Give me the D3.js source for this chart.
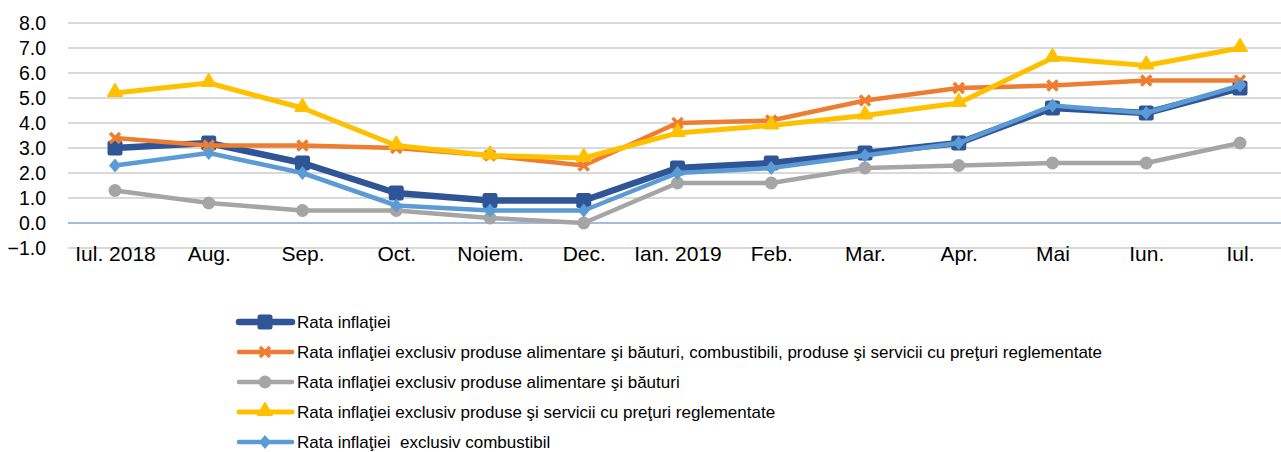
<!doctype html>
<html lang="ro">
<head>
    <meta charset="utf-8">
    <title>Rata inflaţiei</title>
    <script src="https://cdn.jsdelivr.net/npm/d3@7"></script>
    <style>
        body { margin: 0; background: #fff; }
        svg text { font-family: "Liberation Sans", Arial, sans-serif; fill: #000; }
    </style>
</head>
<body>
<svg id="chart" width="1281" height="452"></svg>
<script>
    // months on the x axis
    var months = ["Iul. 2018", "Aug.", "Sep.", "Oct.", "Noiem.", "Dec.", "Ian. 2019", "Feb.", "Mar.", "Apr.", "Mai", "Iun.", "Iul."];
    var yTicks = [-1, 0, 1, 2, 3, 4, 5, 6, 7, 8];

    var rataInflatiei = [3.0, 3.2, 2.4, 1.2, 0.9, 0.9, 2.2, 2.4, 2.8, 3.2, 4.6, 4.4, 5.4];
    var exclAlimCombReglem = [3.4, 3.1, 3.1, 3.0, 2.7, 2.3, 4.0, 4.1, 4.9, 5.4, 5.5, 5.7, 5.7];
    var exclAlim = [1.3, 0.8, 0.5, 0.5, 0.2, 0.0, 1.6, 1.6, 2.2, 2.3, 2.4, 2.4, 3.2];
    var exclReglem = [5.2, 5.6, 4.6, 3.1, 2.7, 2.6, 3.6, 3.9, 4.3, 4.8, 6.6, 6.3, 7.0];
    var exclCombustibil = [2.3, 2.8, 2.0, 0.7, 0.5, 0.5, 2.0, 2.2, 2.7, 3.2, 4.7, 4.4, 5.5];

    var seriesNames = [
        "Rata inflaţiei",
        "Rata inflaţiei exclusiv produse alimentare şi băuturi, combustibili, produse şi servicii cu preţuri reglementate",
        "Rata inflaţiei exclusiv produse alimentare şi băuturi",
        "Rata inflaţiei exclusiv produse şi servicii cu preţuri reglementate",
        "Rata inflaţiei  exclusiv combustibil"
    ];

    var series = [
        {name: seriesNames[0], values: rataInflatiei, color: "#2f5597", width: 6.5, marker: "square"},
        {name: seriesNames[1], values: exclAlimCombReglem, color: "#ed7d31", width: 4.5, marker: "x"},
        {name: seriesNames[2], values: exclAlim, color: "#a5a5a5", width: 4.5, marker: "circle"},
        {name: seriesNames[3], values: exclReglem, color: "#ffc000", width: 5, marker: "triangle"},
        {name: seriesNames[4], values: exclCombustibil, color: "#5b9bd5", width: 4.5, marker: "diamond"}
    ];

    var svg = d3.select("#chart");
    var x = d3.scalePoint().domain(months).range([115, 1240]);
    var y = d3.scaleLinear().domain([-1, 8]).range([248, 23]);

    // gridlines
    svg.append("g").selectAll("line").data(yTicks).enter().append("line")
        .attr("x1", 68).attr("x2", 1281)
        .attr("y1", d => y(d)).attr("y2", d => y(d))
        .style("stroke", "#d9d9d9").style("stroke-width", 2);

    // zero line
    svg.append("line").attr("x1", 68).attr("x2", 1281)
        .attr("y1", y(0)).attr("y2", y(0))
        .style("stroke", "#8db3e2").style("stroke-width", 1.5);

    // y axis labels
    var yAxis = svg.append("g").attr("transform", "translate(46,0)")
        .call(d3.axisLeft(y).tickValues(yTicks).tickFormat(d3.format(".1f")).tickSize(0).tickPadding(0));
    yAxis.select(".domain").remove();
    yAxis.selectAll("text").style("font-size", "19.5px").style("font-family", null);

    // x axis labels
    var xAxis = svg.append("g").attr("transform", "translate(0," + y(-1) + ")")
        .call(d3.axisBottom(x).tickSize(0));
    xAxis.select(".domain").remove();
    xAxis.selectAll("text").attr("y", 13).attr("dy", null)
        .style("font-size", "21px").style("font-family", null);

    var line = d3.line().x((d, i) => x(months[i])).y(d => y(d));

    function drawMarker(g, s) {
        if (s.marker === "square") {
            g.append("rect").attr("x", -5).attr("y", -5).attr("width", 10).attr("height", 10)
                .style("fill", s.color).style("stroke", s.color).style("stroke-width", 5).style("stroke-linejoin", "round");
        } else if (s.marker === "x") {
            g.append("path").attr("d", "M-5,-5L5,5M-5,5L5,-5")
                .style("stroke", s.color).style("stroke-width", 3.5).style("fill", "none");
        } else if (s.marker === "circle") {
            g.append("circle").attr("r", 6.5).style("fill", s.color);
        } else if (s.marker === "triangle") {
            g.append("path").attr("d", d3.symbol(d3.symbolTriangle, 90)())
                .attr("transform", "translate(0,-1)")
                .style("fill", s.color).style("stroke", s.color).style("stroke-width", 1.5).style("stroke-linejoin", "round");
        } else if (s.marker === "diamond") {
            g.append("path").attr("d", "M0,-7L6,0L0,7L-6,0Z").style("fill", s.color);
        }
    }

    series.forEach(function (s) {
        var g = svg.append("g");
        g.append("path").datum(s.values).attr("d", line)
            .style("fill", "none").style("stroke", s.color).style("stroke-width", s.width)
            .style("stroke-linejoin", "round").style("stroke-linecap", "round");
        g.selectAll("g.m").data(s.values).enter().append("g").attr("class", "m")
            .attr("transform", (d, i) => "translate(" + x(months[i]) + "," + y(d) + ")")
            .each(function () { drawMarker(d3.select(this), s); });
    });

    // legend
    var legend = svg.append("g");
    var rows = legend.selectAll("g").data(series).enter().append("g")
        .attr("transform", (d, i) => "translate(0," + (322 + i * 30) + ")");
    rows.append("line").attr("x1", 239).attr("x2", 292).attr("y1", 0).attr("y2", 0)
        .style("stroke", d => d.color).style("stroke-width", d => d.width).style("stroke-linecap", "round");
    rows.append("g").attr("transform", "translate(265,0)").each(function (d) { drawMarker(d3.select(this), d); });
    rows.append("text").attr("x", 297).attr("y", 0).attr("dy", "0.35em")
        .style("font-size", "17px").style("white-space", "pre").text(d => d.name);
</script>
</body>
</html>
